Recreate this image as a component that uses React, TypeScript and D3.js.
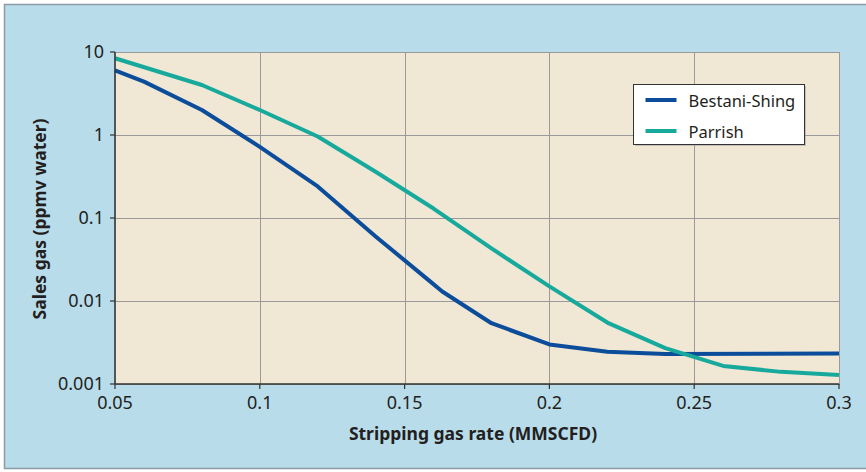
import React, { useEffect, useRef } from "react";
import * as d3 from "d3";

// Bestani-Shing series
const bestaniX = [0.05, 0.06, 0.08, 0.1, 0.12, 0.14, 0.159, 0.163, 0.18, 0.2, 0.22, 0.24, 0.3];
const bestaniY = [6.0, 4.4, 2.0, 0.72, 0.24, 0.06, 0.017, 0.013, 0.0054, 0.003, 0.00245, 0.0023, 0.00233];

// Parrish series
const parrishX = [0.05, 0.08, 0.1, 0.12, 0.14, 0.16, 0.18, 0.2, 0.22, 0.24, 0.26, 0.28, 0.3];
const parrishY = [8.4, 4.0, 2.0, 0.96, 0.36, 0.13, 0.043, 0.015, 0.0055, 0.0027, 0.00165, 0.0014, 0.00128];

const xTicks = [0.05, 0.1, 0.15, 0.2, 0.25, 0.3];
const yTicks = [0.001, 0.01, 0.1, 1, 10];
const yTickLabels = ["0.001", "0.01", "0.1", "1", "10"];

const seriesNames = ["Bestani-Shing", "Parrish"];
const seriesColors = ["#0b4d9b", "#17aa9c"];

const W = 866,
  H = 472;
const margin = { left: 115, right: 27, top: 52, bottom: 88 };
const FONT = "'Noto Sans', 'Open Sans', sans-serif";

function App() {
  const svgRef = useRef<SVGSVGElement>(null);

  useEffect(() => {
    const svg = d3.select(svgRef.current);
    svg.selectAll("*").remove();

    const x = d3.scaleLinear().domain([0.05, 0.3]).range([margin.left, W - margin.right]);
    const y = d3.scaleLog().domain([0.001, 10]).range([H - margin.bottom, margin.top]);
    const [x0, x1] = x.range();
    const [y0, y1] = y.range();

    // outer frame
    svg.append("rect")
      .attr("x", 4.5).attr("y", 4.5)
      .attr("width", W + 10).attr("height", H - 8)
      .attr("fill", "#b9dceb")
      .attr("stroke", "#8c9ba5")
      .attr("stroke-width", 1.5);

    // plot background with gray border (top/right show)
    svg.append("rect")
      .attr("x", x0).attr("y", y1 + 0.5)
      .attr("width", x1 - x0 + 0.5).attr("height", y0 - y1)
      .attr("fill", "#f0e7d4")
      .attr("stroke", "#9a9a9a")
      .attr("stroke-width", 1);

    // grid
    const grid = svg.append("g").attr("stroke", "#9a9a9a").attr("stroke-width", 1);
    xTicks.slice(1, -1).forEach((t) => {
      grid.append("line")
        .attr("x1", Math.round(x(t)) + 0.5).attr("x2", Math.round(x(t)) + 0.5)
        .attr("y1", y1).attr("y2", y0);
    });
    yTicks.slice(1, -1).forEach((t) => {
      grid.append("line")
        .attr("x1", x0).attr("x2", x1)
        .attr("y1", Math.round(y(t)) + 0.5).attr("y2", Math.round(y(t)) + 0.5);
    });

    // series
    const line = d3.line<[number, number]>()
      .x((d) => x(d[0]))
      .y((d) => y(d[1]));

    const series: [number, number][][] = [
      bestaniX.map((v, i) => [v, bestaniY[i]] as [number, number]),
      parrishX.map((v, i) => [v, parrishY[i]] as [number, number]),
    ];

    [0, 1].forEach((i) => {
      svg.append("path")
        .datum(series[i])
        .attr("d", line)
        .attr("fill", "none")
        .attr("stroke", seriesColors[i])
        .attr("stroke-width", 4)
        .attr("stroke-linejoin", "round");
    });

    // axes lines
    svg.append("line")
      .attr("x1", x0).attr("x2", x0).attr("y1", y1).attr("y2", y0)
      .attr("stroke", "#333").attr("stroke-width", 1.5);
    svg.append("line")
      .attr("x1", x0).attr("x2", x1).attr("y1", y0).attr("y2", y0)
      .attr("stroke", "#333").attr("stroke-width", 1.5);

    // y ticks
    const yAxis = svg.append("g");
    yTicks.forEach((t, i) => {
      yAxis.append("line")
        .attr("x1", x0 - 5).attr("x2", x0)
        .attr("y1", y(t)).attr("y2", y(t))
        .attr("stroke", "#333").attr("stroke-width", 1.2);
      yAxis.append("text")
        .attr("x", x0 - 11).attr("y", y(t))
        .attr("dy", "0.36em")
        .attr("text-anchor", "end")
        .attr("font-family", FONT).attr("font-size", 18)
        .attr("fill", "#231f20")
        .text(yTickLabels[i]);
    });

    // x ticks
    const xAxis = svg.append("g");
    xTicks.forEach((t) => {
      xAxis.append("line")
        .attr("x1", x(t)).attr("x2", x(t))
        .attr("y1", y0).attr("y2", y0 + 5)
        .attr("stroke", "#333").attr("stroke-width", 1.2);
      xAxis.append("text")
        .attr("x", x(t)).attr("y", y0 + 25)
        .attr("text-anchor", "middle")
        .attr("font-family", FONT).attr("font-size", 18)
        .attr("fill", "#231f20")
        .text(String(t));
    });

    // axis titles
    svg.append("text")
      .attr("x", 473).attr("y", 440)
      .attr("text-anchor", "middle")
      .attr("font-family", FONT).attr("font-size", 17.5).attr("font-weight", "bold")
      .attr("fill", "#231f20")
      .text("Stripping gas rate (MMSCFD)");
    svg.append("text")
      .attr("transform", "translate(46,219) rotate(-90)")
      .attr("text-anchor", "middle")
      .attr("font-family", FONT).attr("font-size", 17.5).attr("font-weight", "bold")
      .attr("fill", "#231f20")
      .text("Sales gas (ppmv water)");

    // legend
    const lg = svg.append("g").attr("transform", "translate(633.5,84.5)");
    lg.append("rect")
      .attr("x", 1.5).attr("y", 1.5).attr("width", 171).attr("height", 60)
      .attr("fill", "#9a9a9a").attr("opacity", 0.5);
    lg.append("rect")
      .attr("width", 171).attr("height", 60)
      .attr("fill", "#fff").attr("stroke", "#333").attr("stroke-width", 1);
    seriesNames.forEach((name, i) => {
      const cy = 15.5 + i * 31;
      lg.append("line")
        .attr("x1", 12).attr("x2", 43).attr("y1", cy).attr("y2", cy)
        .attr("stroke", seriesColors[i]).attr("stroke-width", 4);
      lg.append("text")
        .attr("x", 55).attr("y", cy + 6.5)
        .attr("font-family", FONT).attr("font-size", 16.5)
        .attr("fill", "#231f20")
        .text(name);
    });
  }, []);

  return (
    <svg
      ref={svgRef}
      width={W}
      height={H}
      style={{ position: "absolute", left: 0, top: 0, display: "block" }}
    />
  );
}

export default App;
